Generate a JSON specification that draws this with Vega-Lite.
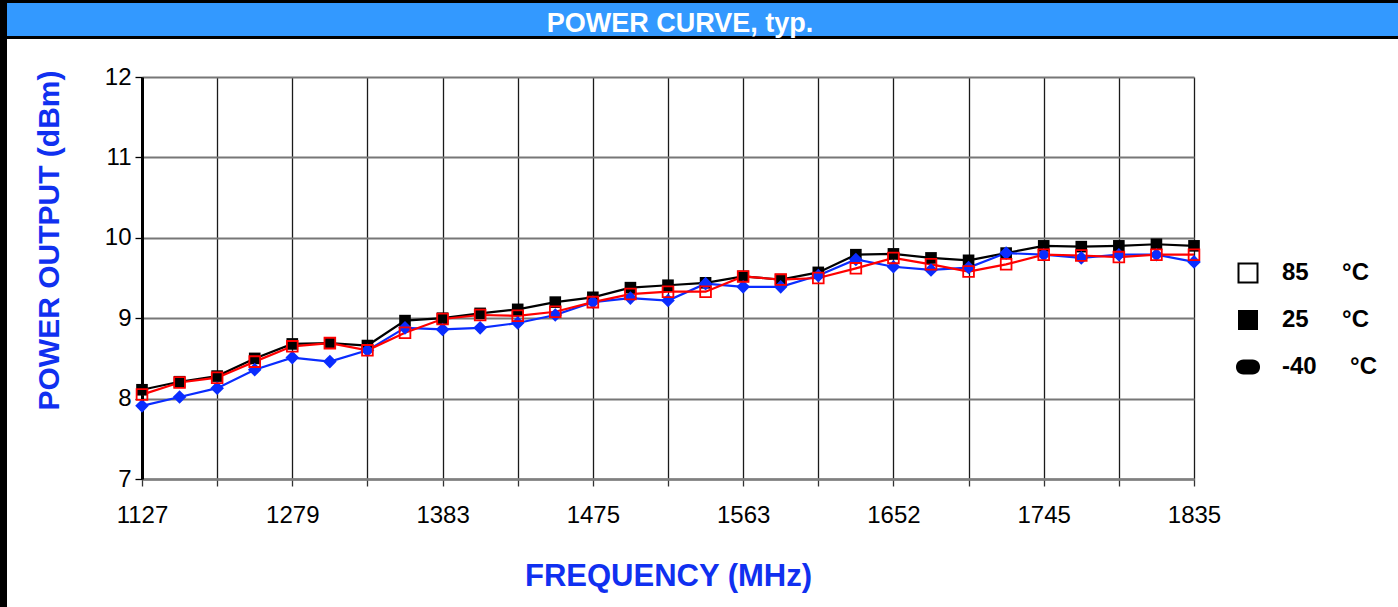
{
  "$schema": "https://vega.github.io/schema/vega-lite/v6.json",
  "width": 1052,
  "height": 402,
  "autosize": {"type": "none"},
  "padding": {"left": 142, "top": 77, "right": 204, "bottom": 128},
  "background": "white",
  "config": {"font": "Liberation Sans", "view": {"stroke": null}},
  "data": {
    "values": [
      {"i": 0, "t": "25", "p": 8.11}, {"i": 1, "t": "25", "p": 8.21}, {"i": 2, "t": "25", "p": 8.28}, {"i": 3, "t": "25", "p": 8.50},
      {"i": 4, "t": "25", "p": 8.68}, {"i": 5, "t": "25", "p": 8.69}, {"i": 6, "t": "25", "p": 8.66}, {"i": 7, "t": "25", "p": 8.97},
      {"i": 8, "t": "25", "p": 9.00}, {"i": 9, "t": "25", "p": 9.06}, {"i": 10, "t": "25", "p": 9.11}, {"i": 11, "t": "25", "p": 9.20},
      {"i": 12, "t": "25", "p": 9.26}, {"i": 13, "t": "25", "p": 9.38}, {"i": 14, "t": "25", "p": 9.41}, {"i": 15, "t": "25", "p": 9.44},
      {"i": 16, "t": "25", "p": 9.52}, {"i": 17, "t": "25", "p": 9.48}, {"i": 18, "t": "25", "p": 9.57}, {"i": 19, "t": "25", "p": 9.79},
      {"i": 20, "t": "25", "p": 9.80}, {"i": 21, "t": "25", "p": 9.75}, {"i": 22, "t": "25", "p": 9.72}, {"i": 23, "t": "25", "p": 9.81},
      {"i": 24, "t": "25", "p": 9.90}, {"i": 25, "t": "25", "p": 9.89}, {"i": 26, "t": "25", "p": 9.90}, {"i": 27, "t": "25", "p": 9.92},
      {"i": 28, "t": "25", "p": 9.90},
      {"i": 0, "t": "-40", "p": 7.91}, {"i": 1, "t": "-40", "p": 8.02}, {"i": 2, "t": "-40", "p": 8.13}, {"i": 3, "t": "-40", "p": 8.36},
      {"i": 4, "t": "-40", "p": 8.51}, {"i": 5, "t": "-40", "p": 8.46}, {"i": 6, "t": "-40", "p": 8.60}, {"i": 7, "t": "-40", "p": 8.88},
      {"i": 8, "t": "-40", "p": 8.86}, {"i": 9, "t": "-40", "p": 8.88}, {"i": 10, "t": "-40", "p": 8.94}, {"i": 11, "t": "-40", "p": 9.04},
      {"i": 12, "t": "-40", "p": 9.20}, {"i": 13, "t": "-40", "p": 9.25}, {"i": 14, "t": "-40", "p": 9.22}, {"i": 15, "t": "-40", "p": 9.43},
      {"i": 16, "t": "-40", "p": 9.39}, {"i": 17, "t": "-40", "p": 9.39}, {"i": 18, "t": "-40", "p": 9.53}, {"i": 19, "t": "-40", "p": 9.73},
      {"i": 20, "t": "-40", "p": 9.64}, {"i": 21, "t": "-40", "p": 9.60}, {"i": 22, "t": "-40", "p": 9.63}, {"i": 23, "t": "-40", "p": 9.81},
      {"i": 24, "t": "-40", "p": 9.79}, {"i": 25, "t": "-40", "p": 9.75}, {"i": 26, "t": "-40", "p": 9.79}, {"i": 27, "t": "-40", "p": 9.79},
      {"i": 28, "t": "-40", "p": 9.70},
      {"i": 0, "t": "85", "p": 8.05}, {"i": 1, "t": "85", "p": 8.20}, {"i": 2, "t": "85", "p": 8.26}, {"i": 3, "t": "85", "p": 8.46},
      {"i": 4, "t": "85", "p": 8.65}, {"i": 5, "t": "85", "p": 8.69}, {"i": 6, "t": "85", "p": 8.60}, {"i": 7, "t": "85", "p": 8.82},
      {"i": 8, "t": "85", "p": 8.99}, {"i": 9, "t": "85", "p": 9.04}, {"i": 10, "t": "85", "p": 9.03}, {"i": 11, "t": "85", "p": 9.08},
      {"i": 12, "t": "85", "p": 9.20}, {"i": 13, "t": "85", "p": 9.30}, {"i": 14, "t": "85", "p": 9.33}, {"i": 15, "t": "85", "p": 9.33},
      {"i": 16, "t": "85", "p": 9.52}, {"i": 17, "t": "85", "p": 9.48}, {"i": 18, "t": "85", "p": 9.50}, {"i": 19, "t": "85", "p": 9.62},
      {"i": 20, "t": "85", "p": 9.75}, {"i": 21, "t": "85", "p": 9.67}, {"i": 22, "t": "85", "p": 9.58}, {"i": 23, "t": "85", "p": 9.67},
      {"i": 24, "t": "85", "p": 9.79}, {"i": 25, "t": "85", "p": 9.78}, {"i": 26, "t": "85", "p": 9.76}, {"i": 27, "t": "85", "p": 9.79},
      {"i": 28, "t": "85", "p": 9.79}
    ]
  },
  "layer": [
    {
      "mark": {"type": "line", "strokeWidth": 2.2},
      "encoding": {
        "x": {
          "field": "i", "type": "quantitative",
          "scale": {"domain": [0, 28], "nice": false, "zero": false},
          "axis": {
            "values": [0, 2, 4, 6, 8, 10, 12, 14, 16, 18, 20, 22, 24, 26, 28],
            "labelExpr": "datum.value % 4 === 0 ? ['1127','1279','1383','1475','1563','1652','1745','1835'][datum.value / 4] : ''",
            "labelFlush": false, "labelOverlap": false,
            "grid": true, "gridColor": "#1a1a1a", "gridWidth": 1.3,
            "domainColor": "#808080", "domainWidth": 2.5,
            "tickColor": "#333333", "tickSize": 7, "tickWidth": 1.3,
            "labelFontSize": 24, "labelColor": "#000000", "labelPadding": 17, "labelFont": "Liberation Sans",
            "title": "FREQUENCY (MHz)", "titleColor": "#1030f0", "titleFontSize": 31, "titleFontWeight": "bold",
            "titleFont": "Liberation Sans", "titleX": 526, "titleY": 106, "titleBaseline": "alphabetic", "titleAlign": "center"
          }
        },
        "y": {
          "field": "p", "type": "quantitative",
          "scale": {"domain": [7, 12], "nice": false, "zero": false},
          "axis": {
            "values": [7, 8, 9, 10, 11, 12], "format": "d",
            "labelFlush": false, "labelOverlap": false,
            "grid": true, "gridColor": "#777777", "gridWidth": 2,
            "domainColor": "#000000", "domainWidth": 3,
            "tickColor": "#000000", "tickSize": 7, "tickWidth": 1.3,
            "labelFontSize": 24, "labelColor": "#000000", "labelPadding": 4, "labelFont": "Liberation Sans",
            "title": "POWER OUTPUT (dBm)", "titleColor": "#1030f0", "titleFontSize": 30, "titleFontWeight": "bold",
            "titleFont": "Liberation Sans", "titleAngle": -90, "titleX": -84, "titleY": 163,
            "titleBaseline": "alphabetic", "titleAlign": "center"
          }
        },
        "color": {
          "field": "t", "type": "nominal",
          "scale": {"domain": ["-40", "85", "25"], "range": ["#0a2cff", "#ff0000", "#000000"]},
          "legend": null
        }
      }
    },
    {
      "transform": [{"filter": "datum.t === '25'"}],
      "mark": {"type": "point", "shape": "square", "filled": true, "color": "#000000", "size": 135, "opacity": 1},
      "encoding": {
        "x": {"field": "i", "type": "quantitative"},
        "y": {"field": "p", "type": "quantitative"}
      }
    },
    {
      "transform": [{"filter": "datum.t === '-40'"}],
      "mark": {"type": "point", "shape": "diamond", "filled": true, "color": "#0a2cff", "size": 185, "opacity": 1},
      "encoding": {
        "x": {"field": "i", "type": "quantitative"},
        "y": {"field": "p", "type": "quantitative"}
      }
    },
    {
      "transform": [{"filter": "datum.t === '85'"}],
      "mark": {"type": "point", "shape": "square", "filled": false, "stroke": "#ff0000", "strokeWidth": 1.8, "size": 115, "opacity": 1},
      "encoding": {
        "x": {"field": "i", "type": "quantitative"},
        "y": {"field": "p", "type": "quantitative"}
      }
    },
    {
      "mark": {"type": "point", "filled": true, "color": "#000000", "opacity": 0},
      "encoding": {
        "x": {"field": "i", "type": "quantitative"},
        "y": {"field": "p", "type": "quantitative"},
        "shape": {
          "field": "t", "type": "nominal",
          "scale": {
            "domain": ["85", "25", "-40"],
            "range": [
              "M-1.05,-1.05 L1.05,-1.05 L1.05,1.05 L-1.05,1.05 Z M-0.85,-0.85 L-0.85,0.85 L0.85,0.85 L0.85,-0.85 Z",
              "square",
              "M-0.45,-0.75 L0.45,-0.75 C1.45,-0.75 1.45,0.75 0.45,0.75 L-0.45,0.75 C-1.45,0.75 -1.45,-0.75 -0.45,-0.75 Z"
            ]
          },
          "legend": {
            "title": null,
            "orient": "none",
            "legendX": 1094,
            "legendY": 184,
            "padding": 0,
            "labelFontSize": 24,
            "labelFontWeight": "bold",
            "labelColor": "#000000",
            "labelFont": "Liberation Sans",
            "symbolSize": 400,
            "symbolStrokeWidth": 0,
            "symbolFillColor": "#000000",
            "symbolOpacity": 1,
            "rowPadding": 23,
            "labelOffset": 22,
            "labelExpr": "datum.label + '\u00a0\u00a0\u00a0\u00a0\u00a0°C'"
          }
        }
      }
    },
    {
      "data": {"values": [{}]},
      "mark": {"type": "rect", "fill": "#3399ff", "stroke": "#000000", "strokeWidth": 3},
      "encoding": {
        "x": {"datum": -3.7, "type": "quantitative"},
        "x2": {"datum": 33.6},
        "y": {"datum": 12.939, "type": "quantitative"},
        "y2": {"datum": 12.491}
      }
    },
    {
      "data": {"values": [{}]},
      "mark": {"type": "rect", "fill": "#000000"},
      "encoding": {
        "x": {"datum": -3.8, "type": "quantitative"},
        "x2": {"datum": -3.593},
        "y": {"datum": 12.96, "type": "quantitative"},
        "y2": {"datum": 5.3}
      }
    },
    {
      "data": {"values": [{"title": "POWER CURVE, typ."}]},
      "mark": {"type": "text", "color": "white", "fontSize": 27, "fontWeight": "bold", "font": "Liberation Sans", "align": "center", "baseline": "alphabetic"},
      "encoding": {
        "x": {"datum": 14.32, "type": "quantitative"},
        "y": {"datum": 12.56, "type": "quantitative"},
        "text": {"field": "title"}
      }
    }
  ]
}
